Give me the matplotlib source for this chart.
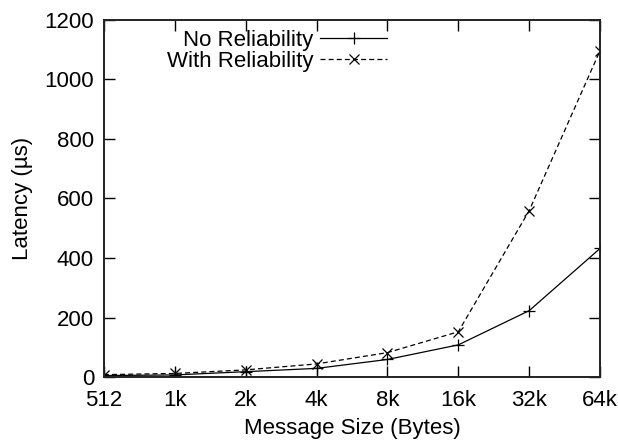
import matplotlib
matplotlib.use('Agg')
import matplotlib.pyplot as plt

# message sizes and measured latencies (microseconds)
sizes = ['512', '1k', '2k', '4k', '8k', '16k', '32k', '64k']
no_reliability = [5, 7, 18, 29, 59, 108, 223, 432]
with_reliability = [8, 12, 24, 44, 82, 152, 559, 1097]

plt.rcParams['font.family'] = ['Liberation Sans', 'DejaVu Sans']

fig = plt.figure(figsize=(6.18, 4.42), dpi=100)
ax = fig.add_axes([0.168, 0.147, 0.803, 0.808])

x = range(len(sizes))
ax.plot(x, no_reliability, color='black', linewidth=0.9, linestyle='-',
        marker='+', markersize=9, markeredgewidth=0.9, label='No Reliability')
ax.plot(x, with_reliability, color='black', linewidth=0.9, linestyle=(0, (4, 2.5)),
        marker='x', markersize=7, markeredgewidth=0.9, label='With Reliability')

ax.set_xlim(0, len(sizes) - 1)
ax.set_ylim(0, 1200)
ax.set_xticks(list(x))
ax.set_xticklabels(sizes)
ax.set_yticks(range(0, 1201, 200))

ax.tick_params(direction='in', top=True, right=True, length=8, width=1.0,
               labelsize=16, colors='black')
ax.tick_params(axis='x', pad=9)
ax.tick_params(axis='y', pad=7)
for s in ax.spines.values():
    s.set_linewidth(1.4)
    s.set_color('#222222')

ax.set_xlabel('Message Size (Bytes)', fontsize=16, labelpad=5.5)
ax.set_ylabel('Latency (\u00b5s)', fontsize=16, labelpad=8)

ax.legend(loc='upper left', bbox_to_anchor=(0.096, 1.015), frameon=False,
          markerfirst=False, handlelength=3.0, fontsize=16, labelspacing=0.0,
          handletextpad=0.3, borderaxespad=0.3)

fig.savefig('out.png', dpi=100)
